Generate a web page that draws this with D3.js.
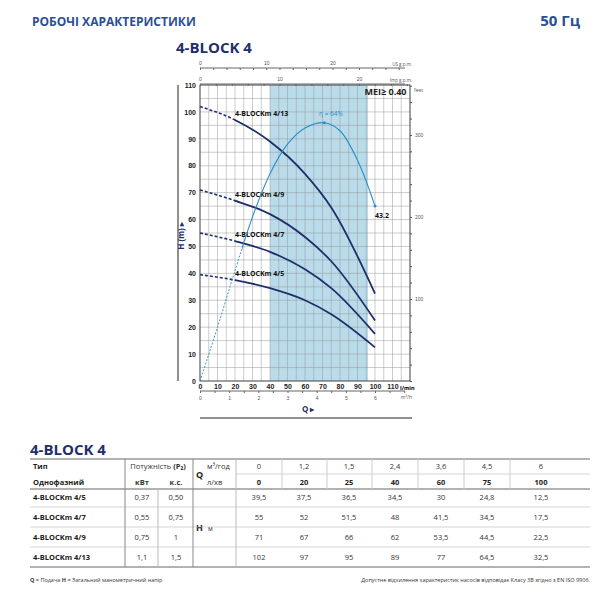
<!DOCTYPE html>
<html><head><meta charset="utf-8">
<script src="https://cdn.jsdelivr.net/npm/d3@7"></script>
<style>body{margin:0;background:#fff}svg{font-family:"Open Sans",sans-serif}</style>
</head><body><div id="chart"></div>
<script>
// Дані
const qLmin = [0, 20, 25, 40, 60, 75, 100];
const qM3h = ["0", "1,2", "1,5", "2,4", "3,6", "4,5", "6"];
const models = ["4-BLOCKm 4/5", "4-BLOCKm 4/7", "4-BLOCKm 4/9", "4-BLOCKm 4/13"];
const kw = ["0,37", "0,55", "0,75", "1,1"];
const hp = ["0,50", "0,75", "1", "1,5"];
const heads = [
  [39.5, 37.5, 36.5, 34.5, 30, 24.8, 12.5],
  [55, 52, 51.5, 48, 41.5, 34.5, 17.5],
  [71, 67, 66, 62, 53.5, 44.5, 22.5],
  [102, 97, 95, 89, 77, 64.5, 32.5]
];
const headLabels = [["39,5","37,5","36,5","34,5","30","24,8","12,5"],["55","52","51,5","48","41,5","34,5","17,5"],["71","67","66","62","53,5","44,5","22,5"],["102","97","95","89","77","64,5","32,5"]];
const effQ = [0, 10, 20, 30, 40, 50, 60, 71, 80, 90, 100];
const effH = [0, 20, 41, 61, 77, 88, 94, 96, 93, 82, 65];

const W = 600, H = 600;
const navy = "#1f2f6b", blue = "#2a8fc4";
const svg = d3.select("#chart").append("svg").attr("width", W).attr("height", H);

svg.append("text").attr("x", 32).attr("y", 26).attr("fill", "#2b4f95").attr("font-weight", "bold").attr("font-size", 12).text("РОБОЧІ ХАРАКТЕРИСТИКИ");
svg.append("text").attr("x", 580).attr("y", 26).attr("text-anchor", "end").attr("fill", "#2b4f95").attr("font-weight", "bold").attr("font-size", 15).text("50 Гц");
svg.append("text").attr("x", 176).attr("y", 53).attr("fill", navy).attr("font-weight", "bold").attr("font-size", 15).text("4-BLOCK 4");

const x = d3.scaleLinear().domain([0, 120]).range([200, 410]);
const y = d3.scaleLinear().domain([0, 110]).range([381, 85]);

// зона
svg.append("rect").attr("x", x(40)).attr("y", y(110)).attr("width", x(96) - x(40)).attr("height", y(0) - y(110)).attr("fill", "#b9dbea");
// сітка
const g = svg.append("g").attr("stroke", "#999").attr("stroke-width", 0.5);
g.selectAll(".v").data(d3.range(0, 121, 5)).join("line").attr("x1", d => x(d)).attr("x2", d => x(d)).attr("y1", y(0)).attr("y2", y(110));
g.selectAll(".h").data(d3.range(0, 111, 5)).join("line").attr("y1", d => y(d)).attr("y2", d => y(d)).attr("x1", x(0)).attr("x2", x(120));
svg.append("rect").attr("x", x(0)).attr("y", y(110)).attr("width", x(120) - x(0)).attr("height", y(0) - y(110)).attr("fill", "none").attr("stroke", "#333").attr("stroke-width", 0.8);

const fs = 7;
const ya = svg.append("g").attr("transform", `translate(${x(0)},0)`).call(d3.axisLeft(y).tickValues(d3.range(0, 111, 10)).tickSize(0).tickPadding(4));
ya.select(".domain").remove();
ya.selectAll("text").attr("font-size", fs).attr("font-weight", "bold").attr("fill", "#222");
const xa = svg.append("g").attr("transform", `translate(0,${y(0)})`).call(d3.axisBottom(x).tickValues(d3.range(0, 111, 10)).tickSize(0).tickPadding(3));
xa.select(".domain").remove();
xa.selectAll("text").attr("font-size", fs).attr("font-weight", "bold").attr("fill", "#222");
svg.append("text").attr("x", 400).attr("y", y(0) + 9).attr("font-size", 5.5).attr("font-weight", "bold").text("l/min");

// вісь feet
const yf = d3.scaleLinear().domain([0, 110 / 0.3048]).range([381, 85]);
const fa = svg.append("g").attr("transform", `translate(${x(120)},0)`).call(d3.axisRight(yf).tickValues(d3.range(0, 361, 20)).tickSize(2).tickFormat(d => d % 100 === 0 && d > 0 ? d : ""));
fa.select(".domain").remove();
fa.selectAll("text").attr("font-size", 5).attr("fill", "#555");
fa.selectAll("line").attr("stroke", "#555");
svg.append("text").attr("x", 414).attr("y", 92).attr("font-size", 5).attr("fill", "#555").text("feet");

// верхні осі
function topAxis(k, yy, step, lab, label) {
  const s = d3.scaleLinear().domain([0, 120 / k]).range([200, 410]);
  const a = svg.append("g").attr("transform", `translate(0,${yy})`).call(d3.axisBottom(s).tickValues(d3.range(0, 120 / k, step)).tickSize(2).tickFormat(d => d % lab === 0 && d <= 20 ? d : ""));
  a.select(".domain").attr("stroke", "#666").attr("d", `M200,0H405`);
  a.selectAll("line").attr("stroke", "#666");
  a.selectAll("text").attr("font-size", 5).attr("fill", "#555").attr("y", -7);
  svg.append("text").attr("x", 412).attr("y", yy - 2).attr("text-anchor", "end").attr("font-size", 4.5).attr("fill", "#555").text(label);
}
topAxis(3.785, 68, 2, 10, "US g.p.m.");
topAxis(4.546, 84, 2, 10, "Imp g.p.m.");
// нижня m3/h
const xm = d3.scaleLinear().domain([0, 120 / 16.667]).range([200, 410]);
const ma = svg.append("g").attr("transform", `translate(0,391)`).call(d3.axisBottom(xm).tickValues(d3.range(0, 7.1, 0.5)).tickSize(2).tickFormat(d => Number.isInteger(d) && d <= 6 ? d : ""));
ma.select(".domain").attr("stroke", "#666").attr("d", "M200,0H405");
ma.selectAll("line").attr("stroke", "#666");
ma.selectAll("text").attr("font-size", 5).attr("fill", "#555");
svg.append("text").attr("x", 412).attr("y", 399).attr("text-anchor", "end").attr("font-size", 5).attr("fill", "#555").text("m³/h");
svg.append("text").attr("x", 302).attr("y", 412).attr("font-size", 8).attr("font-weight", "bold").attr("fill", navy).text("Q ▸");
svg.append("line").attr("x1", 200).attr("x2", 412).attr("y1", 418).attr("y2", 418).attr("stroke", "#222");
svg.append("line").attr("x1", 178).attr("x2", 178).attr("y1", 85).attr("y2", 381).attr("stroke", "#222");
svg.append("text").attr("transform", "translate(184,236) rotate(-90)").attr("text-anchor", "middle").attr("font-size", 8).attr("font-weight", "bold").attr("fill", navy).text("H (m) ▸");

// кліпи: пунктир до 20 л/хв, суцільна після
const defs = svg.append("defs");
defs.append("clipPath").attr("id", "cl").append("rect").attr("x", 0).attr("y", 0).attr("width", x(20)).attr("height", H);
defs.append("clipPath").attr("id", "cr").append("rect").attr("x", x(20)).attr("y", 0).attr("width", W).attr("height", H);
defs.append("clipPath").attr("id", "el").append("rect").attr("x", 0).attr("y", 0).attr("width", x(24)).attr("height", H);
defs.append("clipPath").attr("id", "er").append("rect").attr("x", x(24)).attr("y", 0).attr("width", W).attr("height", H);

// криві
const line = d3.line().x(d => x(d[0])).y(d => y(d[1])).curve(d3.curveMonotoneX);
heads.forEach((hs, k) => {
  const pts = qLmin.map((q, i) => [q, hs[i]]).filter((d, i) => i !== 2);
  svg.append("path").attr("d", line(pts)).attr("clip-path", "url(#cl)").attr("fill", "none").attr("stroke", navy).attr("stroke-width", 1.6).attr("stroke-dasharray", "3,2");
  svg.append("path").attr("d", line(pts)).attr("clip-path", "url(#cr)").attr("fill", "none").attr("stroke", navy).attr("stroke-width", 1.8);
  svg.append("text").attr("x", x(20)).attr("y", y(hs[1]) - 4).attr("font-size", 7).attr("font-weight", "bold").attr("fill", "#111").text(models[k]);
});
// ККД
const ep = effQ.map((q, i) => [q, effH[i]]);
const eline = d3.line().x(d => x(d[0])).y(d => y(d[1])).curve(d3.curveCatmullRom);
svg.append("path").attr("d", eline(ep)).attr("clip-path", "url(#el)").attr("fill", "none").attr("stroke", blue).attr("stroke-width", 0.9).attr("stroke-dasharray", "2,1.5");
svg.append("path").attr("d", eline(ep)).attr("clip-path", "url(#er)").attr("fill", "none").attr("stroke", blue).attr("stroke-width", 1.1);
svg.append("circle").attr("cx", x(71)).attr("cy", y(96)).attr("r", 1.5).attr("fill", blue);
svg.append("circle").attr("cx", x(100)).attr("cy", y(65)).attr("r", 1.5).attr("fill", blue);
svg.append("text").attr("x", x(68)).attr("y", y(98.5)).attr("font-size", 6.5).attr("fill", blue).text("η = 64%");
svg.append("text").attr("x", x(100)).attr("y", y(65) + 12).attr("font-size", 7).attr("font-weight", "bold").attr("fill", "#111").text("43.2");
svg.append("text").attr("x", x(118)).attr("y", y(110) + 10).attr("text-anchor", "end").attr("font-size", 9).attr("font-weight", "bold").attr("fill", "#222").text("MEI≥ 0.40");

// таблиця
svg.append("text").attr("x", 30).attr("y", 455).attr("fill", navy).attr("font-weight", "bold").attr("font-size", 15).text("4-BLOCK 4");
const colX = [259, 304, 349, 395, 441, 487, 541];
const t = svg.append("g").attr("font-size", 7.5).attr("fill", "#333");
const lineAt = (yy, w, c) => svg.append("line").attr("x1", 30).attr("x2", 590).attr("y1", yy).attr("y2", yy).attr("stroke", c).attr("stroke-width", w);
lineAt(459, 1.2, "#666"); lineAt(489, 1.2, "#666"); lineAt(507, 0.6, "#bbb"); lineAt(527, 0.6, "#bbb"); lineAt(547, 0.6, "#bbb"); lineAt(567, 1.2, "#666");
svg.append("line").attr("x1", 125).attr("x2", 125).attr("y1", 459).attr("y2", 567).attr("stroke", "#888");
svg.append("line").attr("x1", 193).attr("x2", 193).attr("y1", 459).attr("y2", 567).attr("stroke", "#888");
svg.append("line").attr("x1", 158).attr("x2", 158).attr("y1", 489).attr("y2", 567).attr("stroke", "#bbb");
svg.append("line").attr("x1", 236).attr("x2", 236).attr("y1", 459).attr("y2", 489).attr("stroke", "#bbb");
svg.append("line").attr("x1", 236).attr("x2", 590).attr("y1", 474).attr("y2", 474).attr("stroke", "#bbb").attr("stroke-width", 0.6);
colX.slice(0, 6).forEach(cx => svg.append("line").attr("x1", cx + 23).attr("x2", cx + 23).attr("y1", 459).attr("y2", 489).attr("stroke", "#ccc"));
svg.append("line").attr("x1", 236).attr("x2", 236).attr("y1", 489).attr("y2", 567).attr("stroke", "#bbb");

t.append("text").attr("x", 33).attr("y", 469).attr("font-weight", "bold").attr("fill", "#222").text("Тип");
t.append("text").attr("x", 33).attr("y", 485).attr("font-weight", "bold").attr("fill", "#222").text("Однофазний");
t.append("text").attr("x", 158).attr("y", 469).attr("text-anchor", "middle").html('Потужність <tspan font-weight="bold">(P₂)</tspan>');
t.append("text").attr("x", 142).attr("y", 485).attr("text-anchor", "middle").attr("font-weight", "bold").text("кВт");
t.append("text").attr("x", 176).attr("y", 485).attr("text-anchor", "middle").attr("font-weight", "bold").text("к.с.");
t.append("text").attr("x", 196).attr("y", 478).attr("font-weight", "bold").attr("font-size", 9).attr("fill", "#222").text("Q");
t.append("text").attr("x", 207).attr("y", 469).text("м³/год");
t.append("text").attr("x", 207).attr("y", 485).text("л/хв");
t.append("text").attr("x", 196).attr("y", 531).attr("font-weight", "bold").attr("font-size", 9).attr("fill", "#222").text("H");
t.append("text").attr("x", 208).attr("y", 531).attr("font-size", 6.5).text("м");
qM3h.forEach((v, i) => t.append("text").attr("x", colX[i]).attr("y", 469).attr("text-anchor", "middle").text(v));
qLmin.forEach((v, i) => t.append("text").attr("x", colX[i]).attr("y", 485).attr("text-anchor", "middle").attr("font-weight", "bold").attr("fill", "#222").text(v));
const rowY = [500, 520, 540, 560];
models.forEach((m, k) => {
  t.append("text").attr("x", 33).attr("y", rowY[k]).attr("font-weight", "bold").attr("fill", "#222").text(m);
  t.append("text").attr("x", 142).attr("y", rowY[k]).attr("text-anchor", "middle").text(kw[k]);
  t.append("text").attr("x", 176).attr("y", rowY[k]).attr("text-anchor", "middle").text(hp[k]);
  headLabels[k].forEach((v, i) => t.append("text").attr("x", colX[i]).attr("y", rowY[k]).attr("text-anchor", "middle").text(v));
});
svg.append("text").attr("x", 30).attr("y", 582).attr("font-size", 5.5).attr("fill", "#333").html('<tspan font-weight="bold">Q</tspan> = Подача <tspan font-weight="bold">H</tspan>  = Загальний манометричний напір');
svg.append("text").attr("x", 590).attr("y", 582).attr("text-anchor", "end").attr("font-size", 5.5).attr("fill", "#333").text("Допустне відхилення характеристик насосів відповідає Класу 3B згідно з EN ISO 9906.");
</script></body></html>
